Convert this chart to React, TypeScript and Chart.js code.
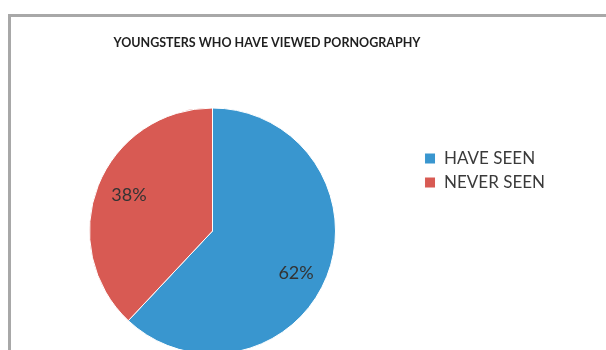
import React, { useEffect, useRef } from 'react';
import { Chart, registerables, layouts } from 'chart.js';

Chart.register(...registerables);

// ---- data ----
const TITLE = 'YOUNGSTERS WHO HAVE VIEWED PORNOGRAPHY';
const categories = ['HAVE SEEN', 'NEVER SEEN'];
const values = [62, 38];
const colors = ['#3996cf', '#d85a53'];

// ---- layout constants ----
const CANVAS_LEFT = -21;
const CANVAS_W = 576;
const CANVAS_H = 361;
const PIE_CX = 233.5; // desired pie centre x in canvas coords
const PIE_RADIUS = 123;
const LABEL_R = 0.75;
const LABEL_ANGLE_SHIFT = 0.06;
const LABEL_DY = 3;
const FONT = 'Lato';

const leftSpacer = {
  id: 'leftSpacer',
  beforeInit(chart: any) {
    const box: any = {
      position: 'left',
      weight: 0,
      fullSize: false,
      options: {},
      left: 0, top: 0, right: 0, bottom: 0, width: 0, height: 0,
      update(maxWidth: number, maxHeight: number) {
        const lw = chart.legend ? chart.legend.width : 0;
        this.width = Math.max(0, lw - (CANVAS_W - 2 * PIE_CX));
        this.height = maxHeight;
      },
      isHorizontal() { return false; },
      draw() {},
    };
    layouts.addBox(chart, box);
  },
};

const pctLabels = {
  id: 'pctLabels',
  afterDatasetsDraw(chart: any) {
    const meta = chart.getDatasetMeta(0);
    const data = chart.data.datasets[0].data as number[];
    const total = data.reduce((a, b) => a + b, 0);
    const ctx = chart.ctx;
    ctx.save();
    ctx.font = `18px ${FONT}`;
    ctx.fillStyle = '#333333';
    ctx.textAlign = 'center';
    ctx.textBaseline = 'middle';
    meta.data.forEach((arc: any, i: number) => {
      const p = arc.getProps(['x', 'y', 'startAngle', 'endAngle', 'outerRadius'], true);
      const a = (p.startAngle + p.endAngle) / 2 + LABEL_ANGLE_SHIFT;
      const r = p.outerRadius * LABEL_R;
      ctx.fillText(
        Math.round((data[i] / total) * 100) + '%',
        p.x + Math.cos(a) * r,
        p.y + Math.sin(a) * r + LABEL_DY
      );
    });
    ctx.restore();
  },
};

export default function App() {
  const ref = useRef<HTMLCanvasElement>(null);

  useEffect(() => {
    if (!ref.current) return;
    Chart.defaults.font.family = FONT;
    const chart = new Chart(ref.current, {
      type: 'pie',
      data: {
        labels: categories,
        datasets: [
          {
            data: values,
            backgroundColor: colors,
            borderColor: '#ffffff',
            borderWidth: 1,
            radius: PIE_RADIUS,
            clip: false as any,
          } as any,
        ],
      },
      options: {
        responsive: false,
        animation: false,
        layout: { padding: { top: 0, bottom: 20, left: 0, right: 0 } },
        plugins: {
          title: {
            display: true,
            text: TITLE,
            color: '#1f1f1f',
            font: { family: FONT, size: 12.5, weight: 'bold' },
            padding: { top: 35, bottom: 71 },
          },
          legend: {
            position: 'right',
            align: 'center',
            maxWidth: 300,
            labels: {
              boxWidth: 11,
              boxHeight: 11,
              padding: 7,
              color: '#3a3a3a',
              font: { family: FONT, size: 17 },
            },
          },
          tooltip: { enabled: false },
        },
      } as any,
      plugins: [leftSpacer, pctLabels],
    });
    return () => chart.destroy();
  }, []);

  return (
    <div
      style={{
        position: 'fixed',
        left: 0,
        top: 0,
        width: 606,
        height: 350,
        overflow: 'hidden',
        background: '#ffffff',
      }}
    >
      <div
        style={{
          position: 'absolute',
          left: 8,
          top: 14,
          width: 900,
          height: 600,
          borderTop: '3px solid #a8a8a8',
          borderLeft: '3px solid #a8a8a8',
        }}
      />
      <canvas
        ref={ref}
        width={CANVAS_W}
        height={CANVAS_H}
        style={{ position: 'absolute', left: CANVAS_LEFT, top: 0, width: CANVAS_W, height: CANVAS_H }}
      />
    </div>
  );
}
